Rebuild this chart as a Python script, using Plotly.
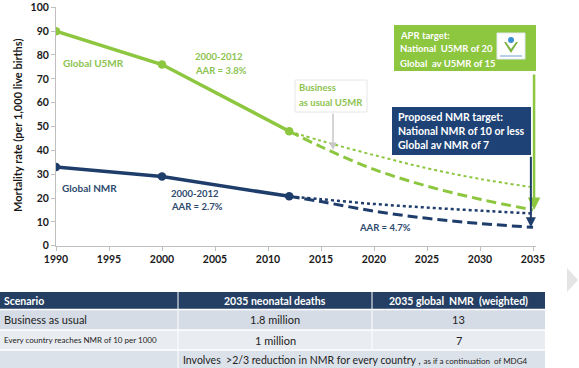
import plotly.graph_objects as go

# ---------------- data ----------------
years_hist = [1990, 2000, 2012]
u5mr_hist = [90, 76, 48]
nmr_hist = [33, 29, 20.7]

proj_years = [2012, 2015, 2020, 2025, 2030, 2035]
u5mr_bau = [48, 44, 38, 32.5, 28, 24.5]
u5mr_target = [48, 41.5, 32, 25, 19.5, 15]
nmr_bau = [20.7, 19.5, 17.5, 16, 14.7, 13.5]
nmr_target = [20.7, 18.5, 14.5, 11.5, 9.3, 7.7]

x_ticks = [1990, 1995, 2000, 2005, 2010, 2015, 2020, 2025, 2030, 2035]
y_ticks = [0, 10, 20, 30, 40, 50, 60, 70, 80, 90, 100]

table_header = ["Scenario", "2035 neonatal deaths", "2035 global  NMR  (weighted)"]
table_rows = [
    ["Business as usual", "1.8 million", "13"],
    ["Every country reaches NMR of 10 per 1000", "1 million", "7"],
]
table_note_main = "Involves  >2/3 reduction in NMR for every country ,"
table_note_small = "as if a continuation  of MDG4"

# ---------------- styles ----------------
W, H = 579, 368
GREEN = "#8dc63f"
GREEN_TXT = "#8cc34f"
NAVY = "#1f3d6b"
NAVY_TXT = "#2e4a6e"
FONT = "Lato"


def X(px):
    return px / W


def Y(py):
    return 1 - py / H


fig = go.Figure()

# historical lines
fig.add_trace(go.Scatter(x=years_hist, y=u5mr_hist, mode="lines+markers",
                         line=dict(color=GREEN, width=3.5),
                         marker=dict(size=8.5, color=GREEN), showlegend=False))
fig.add_trace(go.Scatter(x=years_hist, y=nmr_hist, mode="lines+markers",
                         line=dict(color=NAVY, width=3.5),
                         marker=dict(size=8.5, color=NAVY), showlegend=False))
# projections
fig.add_trace(go.Scatter(x=proj_years, y=u5mr_bau, mode="lines",
                         line=dict(color=GREEN, width=2, dash="dot", shape="spline"),
                         showlegend=False))
fig.add_trace(go.Scatter(x=proj_years, y=u5mr_target, mode="lines",
                         line=dict(color=GREEN, width=3, dash="10px,5px", shape="spline"),
                         showlegend=False))
fig.add_trace(go.Scatter(x=proj_years, y=nmr_bau, mode="lines",
                         line=dict(color=NAVY, width=2.5, dash="dot", shape="spline"),
                         showlegend=False))
fig.add_trace(go.Scatter(x=proj_years, y=nmr_target, mode="lines",
                         line=dict(color=NAVY, width=3, dash="10px,5px", shape="spline"),
                         showlegend=False))

shapes = []
annotations = []


def text(px, py, s, color, size=10.5, bold=True, anchor="left", family=FONT):
    annotations.append(dict(x=X(px), y=Y(py), xref="paper", yref="paper",
                            text=s, showarrow=False, xanchor=anchor, yanchor="middle",
                            align=anchor if anchor != "center" else "center",
                            borderpad=0,
                            font=dict(family=family, size=size, color=color,
                                      weight="bold" if bold else "normal")))


def rect(x0, y0, x1, y1, fill, line=None, lw=0):
    shapes.append(dict(type="rect", xref="paper", yref="paper",
                       x0=X(x0), x1=X(x1), y0=Y(y1), y1=Y(y0),
                       fillcolor=fill, line=dict(color=line or fill, width=lw),
                       layer="above"))


# chart labels
text(62, 63, "Global U5MR", GREEN_TXT, 10)
text(194, 57, "2000-2012", GREEN_TXT, 9.5)
text(194, 70, "AAR = 3.8%", GREEN_TXT, 9.5)
text(61, 188, "Global NMR", NAVY_TXT, 10)
text(170, 193, "2000-2012", NAVY_TXT, 9.5)
text(170, 206, "AAR = 2.7%", NAVY_TXT, 9.5)
text(358, 227, "AAR = 4.7%", NAVY_TXT, 9.5)

# business as usual box
rect(295, 80, 367, 112, "white", "#e6e6e6", 1)
text(298, 88, "Business", GREEN_TXT, 9.5)
text(298, 102, "as usual U5MR", GREEN_TXT, 9.5)
annotations.append(dict(x=X(333), y=Y(150), xref="paper", yref="paper",
                        ax=0, ay=-38, axref="pixel", ayref="pixel",
                        showarrow=True, arrowhead=2, arrowsize=1, arrowwidth=1.5,
                        arrowcolor="#c8c8c8", text=""))

# APR target box
rect(394, 25, 536, 71, GREEN)
text(399, 35, "APR target:", "white", 9.5)
text(399, 49, "National  U5MR of 20", "white", 9.5)
text(399, 63, "Global  av U5MR of 15", "white", 9.5)
# logo
rect(497, 33, 525, 59, "white", "#e0e8f0", 1)
shapes.append(dict(type="circle", xref="paper", yref="paper",
                   x0=X(508), x1=X(514), y0=Y(43), y1=Y(37),
                   fillcolor="#3a8fd0", line=dict(width=0), layer="above"))
shapes.append(dict(type="path", xref="paper", yref="paper",
                   path=f"M {X(504)},{Y(42)} L {X(511)},{Y(53)} L {X(518)},{Y(42)} L {X(516)},{Y(42)} L {X(511)},{Y(49)} L {X(506)},{Y(42)} Z",
                   fillcolor="#7cb342", line=dict(width=0), layer="above"))
shapes.append(dict(type="line", xref="paper", yref="paper",
                   x0=X(500), x1=X(522), y0=Y(56), y1=Y(56),
                   line=dict(color="#6aa0d0", width=1), layer="above"))

# NMR target box
rect(392, 107, 531, 155, "#1e4276")
text(397, 117, "Proposed NMR target:", "white", 10.5)
text(397, 131, "National NMR of 10 or less", "white", 10.5)
text(397, 145, "Global av NMR of 7", "white", 10.5)

# target arrows (heads at 2035 end points)
annotations.append(dict(x=2035.1, y=u5mr_target[-1], xref="x", yref="y",
                        ax=0, ay=-137, axref="pixel", ayref="pixel",
                        showarrow=True, arrowhead=2, arrowsize=1, arrowwidth=2.5,
                        arrowcolor=GREEN, text=""))
annotations.append(dict(x=2034.8, y=nmr_target[-1], xref="x", yref="y",
                        ax=0, ay=-72, axref="pixel", ayref="pixel",
                        showarrow=True, arrowhead=2, arrowsize=1, arrowwidth=2,
                        arrowcolor=NAVY, text=""))

# ---------------- table ----------------
col_x = [0, 178, 372, 545]
row_y = [292, 309.5, 330, 350, 368]
HEAD = "#243f63"
rect(col_x[0], row_y[0], col_x[3], row_y[1], HEAD)
rect(col_x[0], row_y[1], col_x[3], row_y[2], "#d5dce6")
rect(col_x[0], row_y[2], col_x[3], row_y[3], "#e9ecf1")
rect(col_x[0], row_y[3], col_x[3], row_y[4], "#dce2ea")
# white separators
for yy in row_y[1:4]:
    shapes.append(dict(type="line", xref="paper", yref="paper",
                       x0=X(0), x1=X(545), y0=Y(yy), y1=Y(yy),
                       line=dict(color="white", width=1.5), layer="above"))
for xx in col_x[1:3]:
    shapes.append(dict(type="line", xref="paper", yref="paper",
                       x0=X(xx), x1=X(xx), y0=Y(292), y1=Y(350),
                       line=dict(color="white", width=1), layer="above"))
shapes.append(dict(type="line", xref="paper", yref="paper",
                   x0=X(178), x1=X(178), y0=Y(350), y1=Y(368),
                   line=dict(color="white", width=1), layer="above"))

hc = (row_y[0] + row_y[1]) / 2
text(3, hc, table_header[0], "white", 10.5)
text((col_x[1] + col_x[2]) / 2, hc, table_header[1], "white", 10.5, anchor="center")
text((col_x[2] + col_x[3]) / 2, hc, table_header[2], "white", 10.5, anchor="center")
sizes = [11, 8]
for i, row in enumerate(table_rows):
    cy = (row_y[i + 1] + row_y[i + 2]) / 2
    text(3, cy, row[0], "#222222", sizes[i], bold=False)
    text((col_x[1] + col_x[2]) / 2, cy, row[1], "#222222", 11, bold=False, anchor="center")
    text((col_x[2] + col_x[3]) / 2, cy, row[2], "#222222", 11, bold=False, anchor="center")
cy = (row_y[3] + row_y[4]) / 2 + 1
annotations.append(dict(x=X(182), y=Y(cy), xref="paper", yref="paper",
                        text=f"{table_note_main} <span style='font-size:8px'>{table_note_small}</span>",
                        showarrow=False, xanchor="left", yanchor="middle", borderpad=0,
                        font=dict(family=FONT, size=10.5, color="#222222")))

# slide nav triangle
shapes.append(dict(type="path", xref="paper", yref="paper",
                   path=f"M {X(567)},{Y(268)} L {X(578)},{Y(280)} L {X(567)},{Y(292)} Z",
                   fillcolor="#e4e4e4", line=dict(width=0), layer="above"))

# y-axis title placed as rotated annotation
annotations.append(dict(x=X(17), y=Y(126), xref="paper", yref="paper",
                        text="<b>Mortality rate (per 1,000 live births)</b>",
                        textangle=-90, showarrow=False, xanchor="center", yanchor="middle",
                        font=dict(family=FONT, size=11, color="#1a1a1a")))

x0px, x1px = 56, 536
y0px, y1px = 245.7, 7.3
px_per_year = 10.6
fig.update_layout(
    width=W, height=H,
    margin=dict(l=0, r=0, t=0, b=0),
    paper_bgcolor="white", plot_bgcolor="white",
    shapes=shapes, annotations=annotations,
    xaxis=dict(domain=[X(x0px), X(x1px)], automargin=False,
               range=[1990, 1990 + (x1px - x0px) / px_per_year],
               tickvals=x_ticks, showgrid=False, zeroline=False,
               showline=True, linecolor="#bfbfbf", linewidth=1,
               ticks="outside", ticklen=4, tickcolor="#bfbfbf",
               tickfont=dict(family=FONT, size=10.5, color="#1a1a1a", weight="bold")),
    yaxis=dict(domain=[Y(y0px), Y(y1px)], range=[0, 100], automargin=False,
               tickvals=y_ticks, showgrid=False, zeroline=False,
               showline=True, linecolor="#bfbfbf", linewidth=1,
               ticks="outside", ticklen=4, tickcolor="#bfbfbf",
               tickfont=dict(family=FONT, size=10.5, color="#1a1a1a", weight="bold")),
)

fig.write_html("out.html")
